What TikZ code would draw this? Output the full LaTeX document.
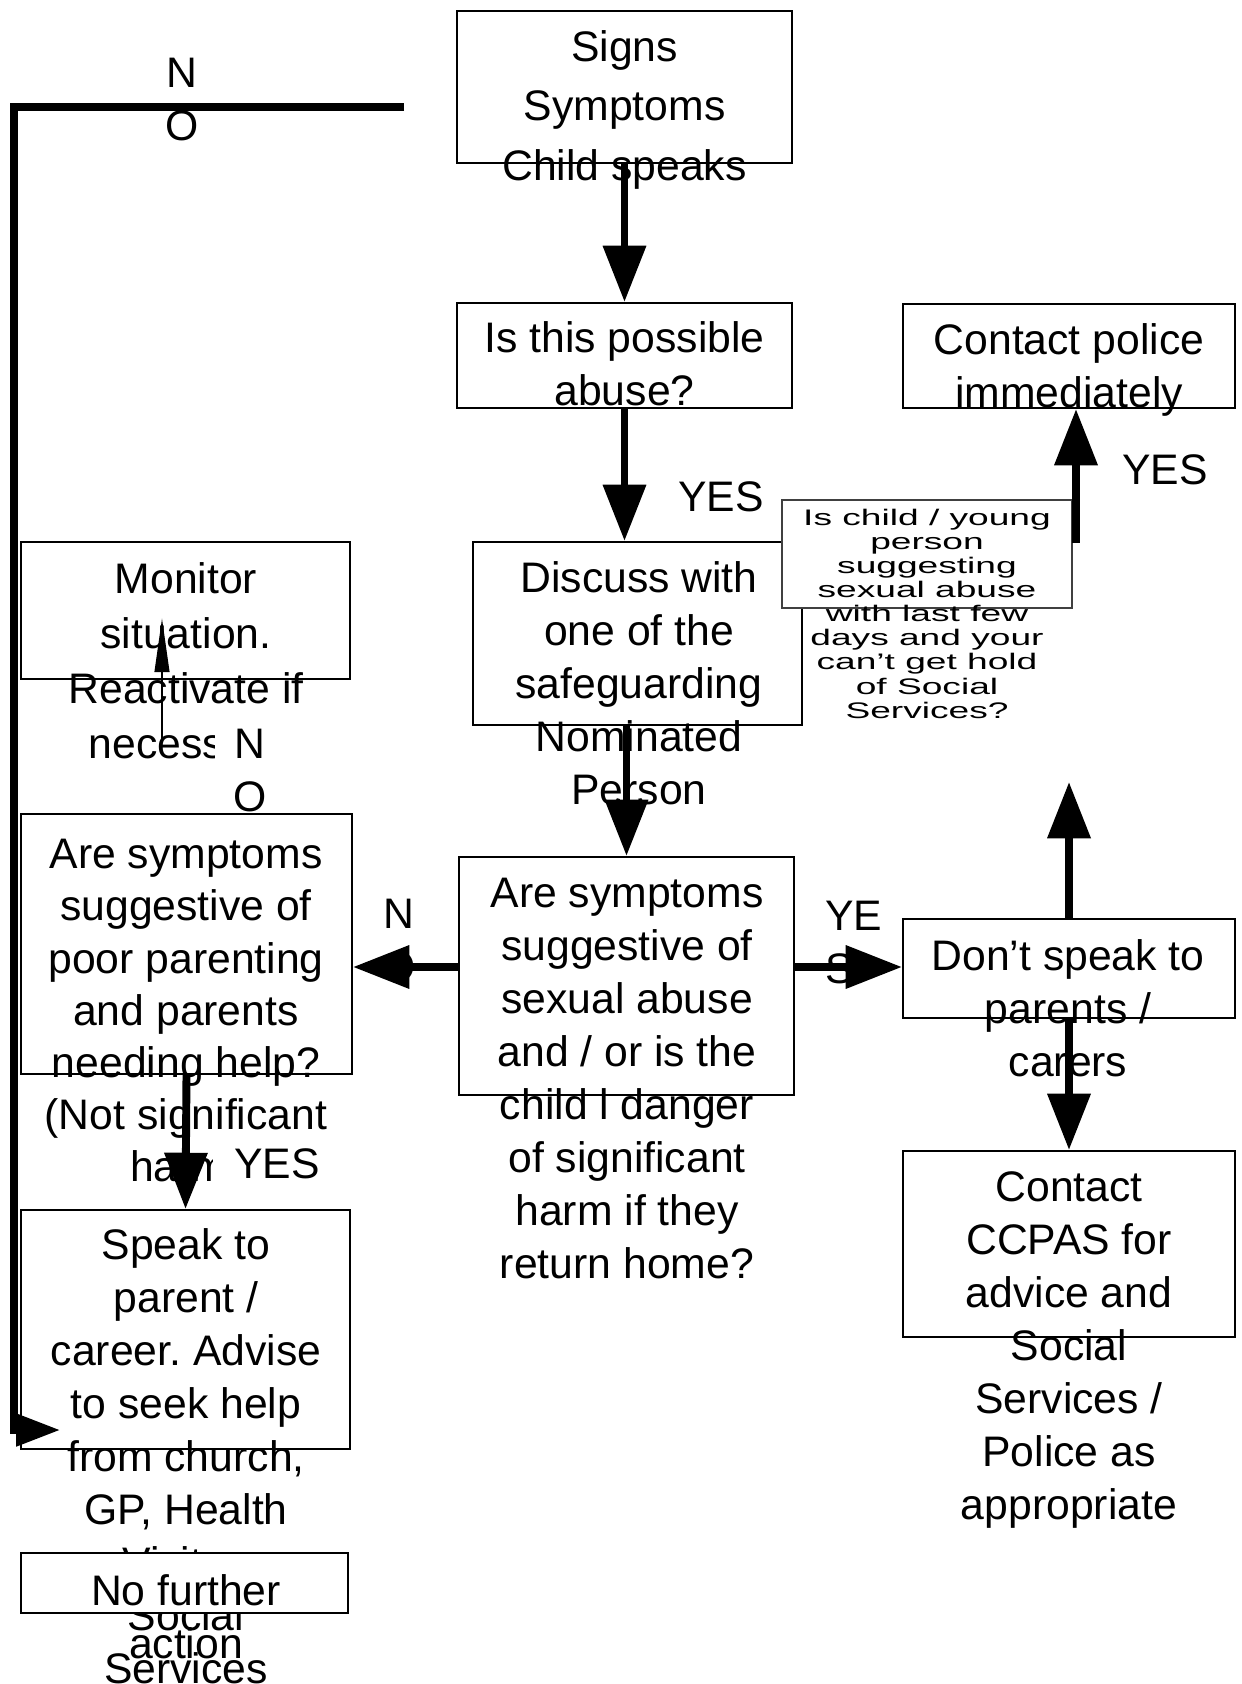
\documentclass[tikz,border=0pt]{standalone}
\usepackage{fontspec}
\setmainfont{Liberation Sans}
\newfontfamily\widefont[FakeStretch=1.65]{Liberation Sans}
\usetikzlibrary{arrows.meta,fit}
\frenchspacing
\tikzset{
  boxsty/.style={draw=black, line width=1pt, inner sep=0pt},
  txt/.style={align=center, inner sep=0pt, anchor=north, font=\fontsize{20.5pt}{25.4pt}\selectfont},
  lbl/.style={inner sep=0pt, font=\fontsize{20.5pt}{25.4pt}\selectfont},
  bigarr/.style={line width=3.8pt, -{Triangle[length=27pt,width=20pt]}},
  thinarr/.style={line width=1.2pt, -{Triangle[length=26pt,width=7pt]}},
  fbline/.style={line width=3.4pt, line join=miter, -{Triangle[length=21pt,width=15pt]}}
}
\begin{document}
\begin{tikzpicture}[x=0.48pt,y=-0.48pt]
\useasboundingbox (0,0) rectangle (1241,1684);
% ---------- boxes
\node[boxsty, fit={(457,11) (792,163)}] (signs) {};
\node[boxsty, fit={(457,303) (792,408)}] (isthis) {};
\node[boxsty, fit={(473,542) (802,725)}] (discuss) {};
\node[boxsty, fit={(459,857) (794,1095)}] (central) {};
\node[boxsty, fit={(903,304) (1235,408)}] (police) {};
\node[boxsty, fit={(903,919) (1235,1018)}] (dont) {};
\node[boxsty, fit={(903,1151) (1235,1337)}] (ccpas) {};
\node[boxsty, fit={(21,542) (350,679)}] (monitor) {};
\node[boxsty, fit={(21,814) (352,1074)}] (leftq) {};
\node[boxsty, fit={(21,1210) (350,1449)}] (speak) {};
% ---------- texts
\node[txt, font=\fontsize{20.5pt}{28.4pt}\selectfont] (signsT) at (624.5,20) {\strut Signs\\Symptoms\\Child speaks};
\node[txt] (isthisT) at (624.5,315.4) {\strut Is this possible\\abuse?};
\node[txt] (discussT) at (639,555.4) {\strut Discuss with\\one of the\\safeguarding\\Nominated\\Person};
\node[txt] (centralT) at (627,870.4) {\strut Are symptoms\\suggestive of\\sexual abuse\\and / or is the\\child l danger\\of significant\\harm if they\\return home?};
\node[txt] (policeT) at (1069,317.4) {\strut Contact police\\immediately};
\node[txt] (dontT) at (1068,933.4) {\strut Don’t speak to\\parents /\\carers};
\node[txt] (ccpasT) at (1069,1164.4) {\strut Contact\\CCPAS for\\advice and\\Social\\Services /\\Police as\\appropriate};
\node[txt, font=\fontsize{20.5pt}{26.4pt}\selectfont] (monitorT) at (186,554.9) {\strut Monitor\\situation.\\Reactivate if\\necessary};
\node[txt, font=\fontsize{20.5pt}{25pt}\selectfont] (leftqT) at (186,832) {\strut Are symptoms\\suggestive of\\poor parenting\\and parents\\needing help?\\(Not significant\\harm)};
\node[txt] (speakT) at (186,1222.4) {\strut Speak to\\parent /\\career. Advise\\to seek help\\from church,\\GP, Health\\Visitor,\\Social\\Services};
% ---------- small question box
\node[boxsty, draw=black!75, line width=1.3pt, fill=white, fit={(782,500) (1072,608)}] (small) {};
\node[txt, font=\widefont\fontsize{10.8pt}{11.57pt}\selectfont] (smallT) at (927,508) {\strut Is child / young\\person\\suggesting\\sexual abuse\\with last few\\days and your\\can’t get hold\\of Social\\Services?};
% ---------- no further action
\node[boxsty, fill=white, fit={(21,1553) (348,1613)}] (nofurther) {};
\node[txt] (nofurtherT) at (186,1568.4) {\strut No further\\action};
% ---------- labels
\node[lbl, align=center, anchor=north] (noTop) at (182,50.4) {\strut N\\O};
\node[lbl, align=center, anchor=north] (noMid) at (399,891.4) {\strut N\\O};
\node[lbl, align=left, anchor=north west] (yesMid) at (825,893.4) {\strut YE\\S};
\node[lbl, align=center, anchor=north, fill=white, inner xsep=9pt] (noMon) at (250,721.4) {\strut N\\O};
\node[lbl, anchor=base] (yesA) at (721,511) {YES};
\node[lbl, anchor=base] (yesB) at (1165,484) {YES};
\node[lbl, anchor=base, fill=white, inner xsep=10pt, inner ysep=1pt, text depth=9pt] (yesC) at (277,1178) {YES};
% ---------- free coordinates
\coordinate (yN) at (0,967);
\coordinate (upend) at (1069,782);
\coordinate (polstart) at (1076,543);
\coordinate (thinstart) at (162,743);
\coordinate (thinend) at (162,618);
\coordinate (fbstart) at (404,107);
\coordinate (fbcorner) at (14,107);
\coordinate (fbbottom) at (14,1430);
\coordinate (fbtip) at (60,1430);
% ---------- connectors
\draw[bigarr] (signs.south) -- (isthis.north);
\draw[bigarr] (isthis.south) -- (isthis.south |- discuss.north);
\draw[bigarr] (central.north |- discuss.south) -- (central.north);
\draw[bigarr] (central.west |- yN) -- (leftq.east |- yN);
\draw[bigarr] (central.east |- yN) -- (dont.west |- yN);
\draw[bigarr] (dont.north) -- (upend);
\draw[bigarr] (dont.south) -- (ccpas.north);
\draw[bigarr] (polstart) -- (polstart |- police.south);
\draw[bigarr] (leftq.south) -- (speak.north);
\draw[thinarr] (thinstart) -- (thinend);
\draw[fbline] (fbstart) -- (fbcorner) -- (fbbottom) -- (fbtip);
\end{tikzpicture}
\end{document}
